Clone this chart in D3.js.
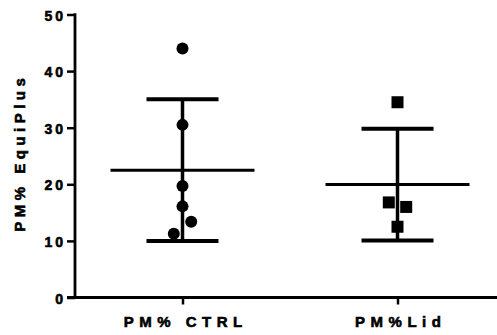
<!DOCTYPE html>
<html>
<head>
<meta charset="utf-8">
<script src="https://cdn.jsdelivr.net/npm/d3@7"></script>
<style>
  body { margin: 0; background: #fff; }
</style>
</head>
<body>
<div id="chart"></div>
<script>
// groups on the x axis
var categories = ["PM% CTRL", "PM%Lid"];
// individual values
var ctrlValues = [44.0, 30.5, 19.7, 16.1, 13.4, 11.25];
var lidValues = [34.5, 16.8, 16.0, 12.5];
var yTicks = [0, 10, 20, 30, 40, 50];
var yTitle = "PM% EquiPlus";

var width = 497, height = 335;
var fontFam = "'Liberation Sans', Arial, Helvetica, sans-serif";
var svg = d3.select("#chart").append("svg")
  .attr("width", width)
  .attr("height", height);

var y = d3.scaleLinear().domain([0, 50]).range([297.5, 14.5]);
var x = d3.scalePoint().domain(categories).range([75, 505]).padding(0.5);

var groups = [
  { name: categories[0], values: ctrlValues, shape: "circle" },
  { name: categories[1], values: lidValues, shape: "square" }
];

//mean and sd (sample) for each group
groups.forEach(function (g) {
  g.mean = d3.mean(g.values);
  g.sd = d3.deviation(g.values);
});

//simple dodge, points that sit too close vertically get spread sideways
function dodge(values, minGap, step) {
  var idx = values.map(function (v, i) { return i; })
    .sort(function (a, b) { return values[b] - values[a]; });
  var offs = values.map(function () { return 0; });
  var clusters = [], cur = [];
  idx.forEach(function (i, k) {
    if (k > 0 && Math.abs(y(values[i]) - y(values[idx[k - 1]])) < minGap) cur.push(i);
    else { if (cur.length) clusters.push(cur); cur = [i]; }
  });
  if (cur.length) clusters.push(cur);
  clusters.forEach(function (c) {
    var slots = c.length % 2 ? [0, 1, -1, 2, -2] : [-1, 1, -2, 2];
    c.forEach(function (i, k) { offs[i] = slots[k] * step; });
  });
  return offs;
}

//heavy black text like the prism export
function heavy(sel, size, spacing) {
  sel.attr("font-family", fontFam)
    .attr("font-weight", "bold")
    .attr("font-size", size)
    .attr("letter-spacing", spacing)
    .attr("fill", "#000")
    .attr("stroke", "#000")
    .attr("stroke-width", 0.6);
}

// y axis
var yAxis = svg.append("g")
  .attr("transform", "translate(75,0)")
  .call(d3.axisLeft(y).tickValues(yTicks).tickSize(8).tickPadding(1).tickFormat(d3.format("d")));
yAxis.select(".domain").remove();
yAxis.selectAll(".tick line").attr("stroke", "#000").attr("stroke-width", 2.5);
yAxis.selectAll(".tick text")
  .call(heavy, 14, 3)
  .attr("dy", "0.4em");
svg.append("line")
  .attr("x1", 75).attr("x2", 75)
  .attr("y1", y(50) - 1.2).attr("y2", y(0) + 1.2)
  .attr("stroke", "#000").attr("stroke-width", 2.8);

// x axis
var xAxis = svg.append("g")
  .attr("transform", "translate(0," + y(0) + ")")
  .call(d3.axisBottom(x).tickSize(7).tickPadding(12));
xAxis.select(".domain").remove();
xAxis.selectAll(".tick line").attr("stroke", "#000").attr("stroke-width", 2.5);
xAxis.selectAll(".tick text")
  .call(heavy, 15, 5.5)
  .attr("dx", "2.75px");
svg.append("line")
  .attr("x1", 67).attr("x2", 497)
  .attr("y1", y(0)).attr("y2", y(0))
  .attr("stroke", "#000").attr("stroke-width", 2.8);

// y title
svg.append("text")
  .attr("transform", "translate(25," + 155 + ") rotate(-90)")
  .attr("text-anchor", "middle")
  .attr("dx", "2.25px")
  .call(heavy, 15, 4.5)
  .text(yTitle);

// mean and sd bars
var stats = svg.append("g");
groups.forEach(function (g) {
  var cx = x(g.name);
  stats.append("line")
    .attr("x1", cx).attr("x2", cx)
    .attr("y1", y(g.mean + g.sd)).attr("y2", y(g.mean - g.sd))
    .attr("stroke", "#000").attr("stroke-width", 3.5);
  [g.mean + g.sd, g.mean - g.sd].forEach(function (v) {
    stats.append("line")
      .attr("x1", cx - 36).attr("x2", cx + 36)
      .attr("y1", y(v)).attr("y2", y(v))
      .attr("stroke", "#000").attr("stroke-width", 4);
  });
  stats.append("line")
    .attr("x1", cx - 72).attr("x2", cx + 72)
    .attr("y1", y(g.mean)).attr("y2", y(g.mean))
    .attr("stroke", "#000").attr("stroke-width", 3);
});

// points
groups.forEach(function (g) {
  var offs = dodge(g.values, 16, 8.7);
  var pts = svg.append("g").selectAll(g.shape === "circle" ? "circle" : "rect")
    .data(g.values)
    .enter();
  if (g.shape === "circle") {
    pts.append("circle")
      .attr("cx", function (d, i) { return x(g.name) + offs[i]; })
      .attr("cy", function (d) { return y(d); })
      .attr("r", 6)
      .attr("fill", "#000");
  } else {
    pts.append("rect")
      .attr("x", function (d, i) { return x(g.name) + offs[i] - 6; })
      .attr("y", function (d) { return y(d) - 6; })
      .attr("width", 12).attr("height", 12)
      .attr("fill", "#000");
  }
});
</script>
</body>
</html>
